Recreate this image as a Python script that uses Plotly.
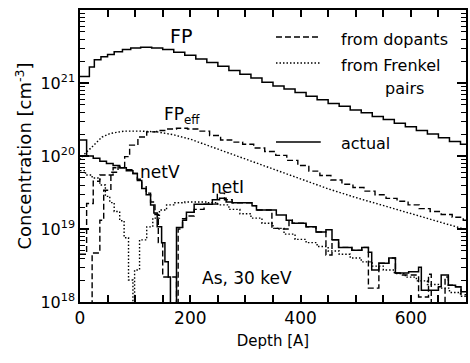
import plotly.graph_objects as go

# ---------------- data (depth in Angstrom, concentration in cm^-3) ----------------
# FP, actual (solid)
fp_depth = [0, 17, 26, 38, 50, 62, 77, 92, 110, 130, 150, 170, 190, 210, 230, 250, 270, 290,
            310, 330, 350, 370, 390, 410, 430, 450, 470, 490, 510, 530, 550, 570, 590, 610,
            630, 650, 670, 690, 700]
fp_conc = [1.23e21, 1.66e21, 2.09e21, 2.29e21, 2.45e21, 2.69e21, 2.88e21, 3.02e21, 3.09e21,
           3.02e21, 2.88e21, 2.63e21, 2.40e21, 2.14e21, 1.91e21, 1.70e21, 1.48e21, 1.32e21,
           1.17e21, 1.02e21, 9.1e20, 8.3e20, 7.4e20, 6.6e20, 5.9e20, 5.25e20, 4.8e20, 4.27e20,
           3.9e20, 3.47e20, 3.16e20, 2.82e20, 2.51e20, 2.24e20, 2.0e20, 1.78e20, 1.58e20,
           1.45e20, 1.45e20]

# FP_eff from dopants (dashed)
fpe_dop_depth = [0, 22, 36, 43, 56, 69, 81, 90, 105, 121, 139, 155, 175, 195, 215, 235, 255,
                 275, 295, 315, 335, 355, 375, 395, 415, 435, 455, 475, 495, 515, 535, 555,
                 575, 595, 615, 635, 655, 675, 695, 700]
fpe_dop_conc = [1e17, 4.7e18, 1.32e19, 3.4e19, 6.0e19, 7.1e19, 9.8e19, 1.41e20, 1.82e20,
                2.14e20, 2.24e20, 2.34e20, 2.40e20, 2.34e20, 2.19e20, 1.91e20, 1.66e20,
                1.55e20, 1.45e20, 1.29e20, 1.15e20, 1.02e20, 8.7e19, 7.4e19, 6.2e19, 5.4e19,
                4.7e19, 4.1e19, 3.7e19, 3.3e19, 2.95e19, 2.63e19, 2.4e19, 2.14e19, 1.9e19,
                1.74e19, 1.58e19, 1.45e19, 1.32e19, 1.32e19]

# FP_eff from Frenkel pairs (dotted)
fpe_fr_depth = [0, 10, 20, 30, 40, 55, 80, 110, 140, 170, 200, 230, 260, 300, 350, 400, 450,
                500, 550, 600, 650, 700]
fpe_fr_conc = [8.9e19, 1.10e20, 1.29e20, 1.55e20, 1.82e20, 2.04e20, 2.19e20, 2.19e20, 2.14e20,
               1.95e20, 1.70e20, 1.41e20, 1.17e20, 9.1e19, 6.6e19, 4.8e19, 3.55e19, 2.7e19,
               2.1e19, 1.62e19, 1.26e19, 9.8e18]

# netV actual (solid)
netv_act_depth = [0, 12, 24, 36, 48, 60, 72, 84, 96, 104, 112, 120, 128, 134, 140, 148, 154,
                  160, 164]
netv_act_conc = [1.66e20, 1.0e20, 9.3e19, 8.5e19, 7.9e19, 7.4e19, 6.9e19, 6.3e19, 5.75e19,
                 4.6e19, 3.6e19, 2.95e19, 2.14e19, 1.66e19, 1.07e19, 6.5e18, 3.55e18, 2.2e18,
                 1e17]

# netV from dopants (dashed)
netv_dop_depth = [0, 12, 24, 36, 60, 84, 96, 104, 112, 120, 128, 136, 142, 150, 175]
netv_dop_conc = [4.5e18, 2.24e19, 4.5e19, 5.5e19, 6.9e19, 6.5e19, 5.75e19, 4.8e19, 3.8e19,
                 3.1e19, 2.34e19, 1.58e19, 6.5e18, 2.2e18, 1e17]

# netV from Frenkel pairs (dotted)
netv_fr_depth = [0, 10, 22, 36, 46, 54, 62, 72, 80, 88, 96]
netv_fr_conc = [6.3e19, 5.5e19, 5.0e19, 4.0e19, 2.8e19, 2.3e19, 1.74e19, 1.3e19, 7.6e18,
                2.0e18, 1e17]

# netI actual (solid)
neti_act_depth = [164, 175, 186, 193, 207, 240, 253, 265, 276, 312, 320, 356, 374, 385, 410,
                  428, 446, 457, 469, 493, 511, 523, 529, 542, 560, 572, 596, 614, 619, 650,
                  655, 668, 681, 691, 700]
neti_act_conc = [1e17, 1.05e19, 1.32e19, 1.70e19, 2.19e19, 2.51e19, 2.63e19, 2.34e19, 2.29e19,
                 2.09e19, 1.82e19, 1.55e19, 1.32e19, 1.20e19, 1.07e19, 9.1e18, 9.8e18, 7.1e18,
                 5.6e18, 5.1e18, 5.6e18, 4.8e18, 2.75e18, 3.4e18, 4.0e18, 2.5e18, 2.6e18,
                 3.0e18, 1.45e18, 1.62e18, 2.34e18, 1.7e18, 1.62e18, 1.38e18, 1.38e18]

# netI from dopants (dashed)
neti_dop_depth = [175, 178, 186, 193, 207, 225, 249, 262, 276, 312, 320, 348, 361, 379, 385,
                  410, 428, 446, 457, 469, 493, 511, 523, 542, 560, 572, 583, 614, 632, 637,
                  662, 668, 681, 691, 700]
neti_dop_conc = [1e17, 1.0e19, 1.38e19, 1.51e19, 1.86e19, 2.19e19, 3.1e19, 2.51e19, 2.29e19,
                 2.09e19, 1.82e19, 1.02e19, 1.0e19, 1.32e19, 1.20e19, 1.07e19, 9.1e18, 4.4e18,
                 7.1e18, 5.6e18, 5.1e18, 5.6e18, 1.55e18, 3.4e18, 4.0e18, 2.5e18, 2.34e18,
                 1.17e18, 2.4e18, 1e17, 2.2e18, 1.7e18, 1.62e18, 1.26e18, 1.26e18]

# netI from Frenkel pairs (dotted)
neti_fr_depth = [96, 99, 108, 121, 132, 144, 157, 170, 190, 210, 230, 250, 270, 290, 310, 330,
                 350, 370, 390, 410, 430, 450, 470, 490, 510, 530, 550, 570, 590, 610, 630,
                 650, 670, 690, 700]
neti_fr_conc = [1e17, 2.75e18, 7.1e18, 1.07e19, 1.41e19, 1.82e19, 2.14e19, 2.29e19, 2.34e19,
                2.34e19, 2.29e19, 2.14e19, 1.86e19, 1.62e19, 1.41e19, 1.20e19, 1.02e19,
                8.5e18, 7.2e18, 6.5e18, 5.75e18, 5.0e18, 4.5e18, 4.0e18, 3.55e18, 3.1e18,
                2.75e18, 2.45e18, 2.19e18, 1.95e18, 1.74e18, 1.55e18, 1.35e18, 1.2e18, 1.2e18]

x_tick_vals = [0, 50, 100, 150, 200, 250, 300, 350, 400, 450, 500, 550, 600, 650, 700]
x_tick_text = ["0", "", "", "", "200", "", "", "", "400", "", "", "", "600", "", ""]
decade_vals = [1e18, 1e19, 1e20, 1e21, 1e22]
decade_text = ["10<sup>18</sup>", "10<sup>19</sup>", "10<sup>20</sup>", "10<sup>21</sup>",
               "10<sup>22</sup>"]
minor_mult = [2, 3, 4, 5, 6, 7, 8, 9]

# ---------------- figure ----------------
W, H = 470, 363
ML, MR, MT, MB = 80, 2, 10, 61
PW, PH = W - ML - MR, H - MT - MB
FONT = "DejaVu Sans"

DASH = "6px,3px"
DOT = "1.5px,2px"

fig = go.Figure()


def add(x, y, dash, width, shape="hv", yaxis="y"):
    fig.add_trace(go.Scatter(x=x, y=y, mode="lines", yaxis=yaxis,
                             line=dict(color="black", width=width, dash=dash, shape=shape),
                             showlegend=False, hoverinfo="skip"))


add(fp_depth, fp_conc, "solid", 1.5, yaxis="y2")
add(fpe_dop_depth, fpe_dop_conc, DASH, 1.4)
add(fpe_fr_depth, fpe_fr_conc, DOT, 1.4, shape="linear")
add(netv_act_depth, netv_act_conc, "solid", 1.5)
add(netv_dop_depth, netv_dop_conc, DASH, 1.4)
add(netv_fr_depth, netv_fr_conc, DOT, 1.4)
add(neti_act_depth, neti_act_conc, "solid", 1.5)
add(neti_dop_depth, neti_dop_conc, DASH, 1.4)
add(neti_fr_depth, neti_fr_conc, DOT, 1.4)


def px(xp):
    return (xp - ML) / PW


def py(yp):
    return (MT + PH - yp) / PH


annotations = []


def label(text, xp, yp, size, anchor="center"):
    annotations.append(dict(text=text, x=px(xp), y=py(yp), xref="paper", yref="paper",
                            xanchor=anchor, yanchor="middle", showarrow=False,
                            font=dict(family=FONT, size=size, color="black")))


label("FP", 182, 36, 19)
label("FP<sub>eff</sub>", 162, 115, 17, "left")
label("netV", 160, 172, 17)
label("netI", 228, 187, 17)
label("As, 30 keV", 248, 278, 17)
label("from dopants", 340, 40, 16, "left")
label("from Frenkel", 340, 65, 16, "left")
label("pairs", 385, 89, 16, "left")
label("actual", 340, 144, 16, "left")

shapes = []
for yp, dash in [(37, DASH), (63, DOT), (142, "solid")]:
    shapes.append(dict(type="line", xref="paper", yref="paper", x0=px(277), x1=px(322),
                       y0=py(yp), y1=py(yp), line=dict(color="black", width=1.4, dash=dash)))

# all log ticks (decades labelled, intermediate ones short and blank)
y_all_vals, y_all_text = [], []
for dv, dt in zip(decade_vals, decade_text):
    y_all_vals.append(dv)
    y_all_text.append(dt)
    if dv < 1e22:
        for m in minor_mult:
            y_all_vals.append(m * dv)
            y_all_text.append("")

fig.update_layout(
    width=W, height=H,
    margin=dict(l=ML, r=MR, t=MT, b=MB),
    paper_bgcolor="white", plot_bgcolor="white",
    font=dict(family=FONT, color="black", size=16),
    annotations=annotations, shapes=shapes,
    xaxis=dict(range=[0, 700], tickmode="array", tickvals=x_tick_vals, ticktext=x_tick_text,
               ticks="inside", ticklen=7, tickwidth=1.6, tickcolor="#000000",
               layer="above traces",
               showline=True, linecolor="black", linewidth=1.5, mirror="ticks",
               showgrid=False, zeroline=False,
               tickfont=dict(family=FONT, size=17),
               title=dict(text="Depth [A]", font=dict(family=FONT, size=15), standoff=8)),
    yaxis=dict(type="log", range=[18, 22], tickmode="array", tickvals=y_all_vals,
               ticktext=y_all_text,
               ticks="inside", ticklen=5, tickwidth=1.4, tickcolor="#000000",
               layer="above traces",
               showline=True, linecolor="black", linewidth=1.5, mirror="ticks",
               showgrid=False, zeroline=False,
               tickfont=dict(family=FONT, size=16),
               title=dict(text="Concentration [cm<sup>-3</sup>]",
                          font=dict(family=FONT, size=18), standoff=4)),
    yaxis2=dict(type="log", range=[18, 22], overlaying="y", side="left",
                tickmode="array", tickvals=decade_vals, showticklabels=False,
                ticks="inside", ticklen=9, tickwidth=1.6, tickcolor="#000000",
                showline=True, linecolor="black", linewidth=1.5, mirror="ticks",
                showgrid=False, zeroline=False),
)

fig.write_html("out.html")
